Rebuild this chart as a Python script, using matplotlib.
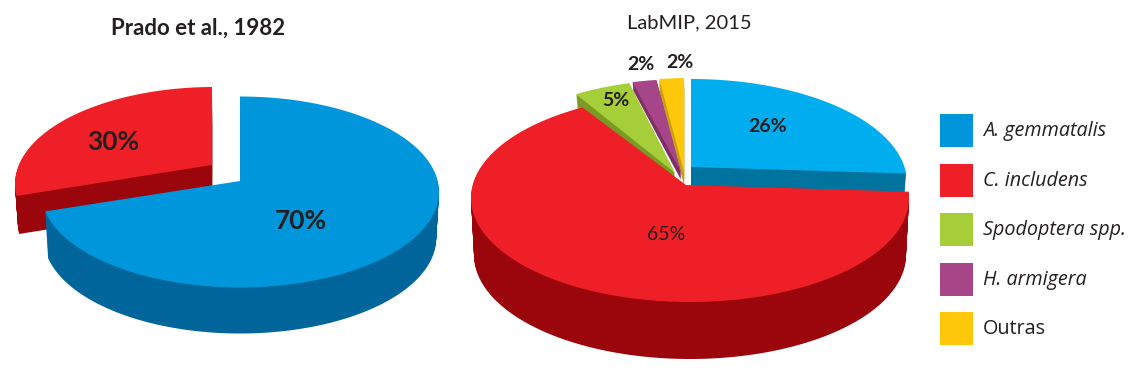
import numpy as np
import matplotlib
matplotlib.use("Agg")
import matplotlib.pyplot as plt
from matplotlib.patches import Rectangle

plt.rcParams['font.family'] = ['Lato', 'DejaVu Sans']

# data
left_title = "Prado et al., 1982"
right_title = "LabMIP, 2015"
left_values = [70, 30]
right_values = [26, 65, 5, 2, 2]
legend_labels = ["A. gemmatalis", "C. includens", "Spodoptera spp.", "H. armigera", "Outras"]

# colours (top, side)
BLUE_L = ('#0096DB', '#00659A')
BLUE_R = ('#00AEEF', '#00739E')
RED = ('#EE1F26', '#9B060C')
GREEN = ('#A6CE39', '#7A9A25')
PURPLE = ('#A64688', '#7F2F67')
YELLOW = ('#FFC80B', '#C9A012')
TEXT = '#231F20'

# slice placement in pixels: ellipse centre, apex, depth. Values order.
left_style = [
    dict(col=BLUE_L, c=(240, 192), apex=(240, 181), r=(199, 95.5), depth=46, order=1),
    dict(col=RED, c=(214, 184), apex=(212, 165), r=(199, 97), depth=38, order=0),
]
right_style = [
    dict(col=BLUE_R, c=(691, 183), apex=(691, 167), r=(216, 104), depth=40, order=0),
    dict(col=RED, c=(690, 198), apex=(686, 185), r=(219, 104), depth=57, order=4),
    dict(col=GREEN, c=(680, 184), apex=(675, 173), r=(206, 104), depth=16, order=3),
    dict(col=PURPLE, c=(686, 183), apex=(681, 172), r=(219, 104), depth=8, order=2),
    dict(col=YELLOW, c=(690, 182), apex=(684, 172), r=(219, 104), depth=13, order=1),
]


def slice_outline(t0, t1, st, shrink=0.0):
    # rays leave the apex and stop on the ellipse, angles clockwise from the top
    (cx, cy), (ax_, ay_), (rx, ry) = st['c'], st['apex'], st['r']
    a = np.array([(ax_ - cx) / rx, (ay_ - cy) / ry])
    t = np.radians(np.linspace(t0, t1, 200))
    dx, dy = np.sin(t), -np.cos(t)
    b = a[0] * dx + a[1] * dy
    s = -b + np.sqrt(b ** 2 - (a @ a - 1))
    xs = cx + rx * (a[0] + s * dx)
    ys = cy + ry * (a[1] + s * dy)
    xs = np.r_[ax_, xs]
    ys = np.r_[ay_, ys]
    return cx + (xs - cx) * (1 - shrink), ys


def draw_pie(ax, values, styles):
    edges = np.r_[0, np.cumsum(values)] / np.sum(values) * 360
    for i in sorted(range(len(values)), key=lambda k: styles[k]['order']):
        st = styles[i]
        for d in range(st['depth'], 0, -1):
            xs, ys = slice_outline(edges[i], edges[i + 1], st, 0.014 * d / st['depth'])
            ax.fill(xs, ys + d, color=st['col'][1], lw=0)
        xs, ys = slice_outline(edges[i], edges[i + 1], st)
        ax.fill(xs, ys, color=st['col'][0], lw=0)


fig = plt.figure(figsize=(11.45, 3.71), dpi=100)
ax = fig.add_axes([0, 0, 1, 1])
ax.set_xlim(0, 1145)
ax.set_ylim(371, 0)
ax.axis('off')

draw_pie(ax, left_values, left_style)
draw_pie(ax, right_values, right_style)

ax.text(198, 28, left_title, ha='center', va='center', fontsize=16, fontweight='bold', color=TEXT)
ax.text(689, 23, right_title, ha='center', va='center', fontsize=14.5, color=TEXT)

# value labels
left_pos = [(301, 221), (113, 142)]
for v, (x, y) in zip(left_values, left_pos):
    ax.text(x, y, f"{v}%", ha='center', va='center', fontsize=19, fontweight='bold', color=TEXT)
right_pos = [(768, 126), (666, 234), (616, 100), (641, 65), (680, 62)]
right_weight = ['bold', 'normal', 'bold', 'bold', 'bold']
for v, (x, y), w in zip(right_values, right_pos, right_weight):
    ax.text(x, y, f"{v}%", ha='center', va='center', fontsize=14, fontweight=w, color=TEXT)

# legend
legend_cols = [BLUE_L[0], RED[0], GREEN[0], PURPLE[0], YELLOW[0]]
for i, (lab, col) in enumerate(zip(legend_labels, legend_cols)):
    y = 114 + i * 49.5
    ax.add_patch(Rectangle((940, y), 33, 33, facecolor=col, edgecolor='none'))
    style = 'normal' if lab == "Outras" else 'italic'
    ax.text(983, y + 17, lab, ha='left', va='center', fontsize=14.2, style=style,
            family=['Open Sans', 'DejaVu Sans'], color=TEXT)

fig.savefig('out.png', dpi=100)
